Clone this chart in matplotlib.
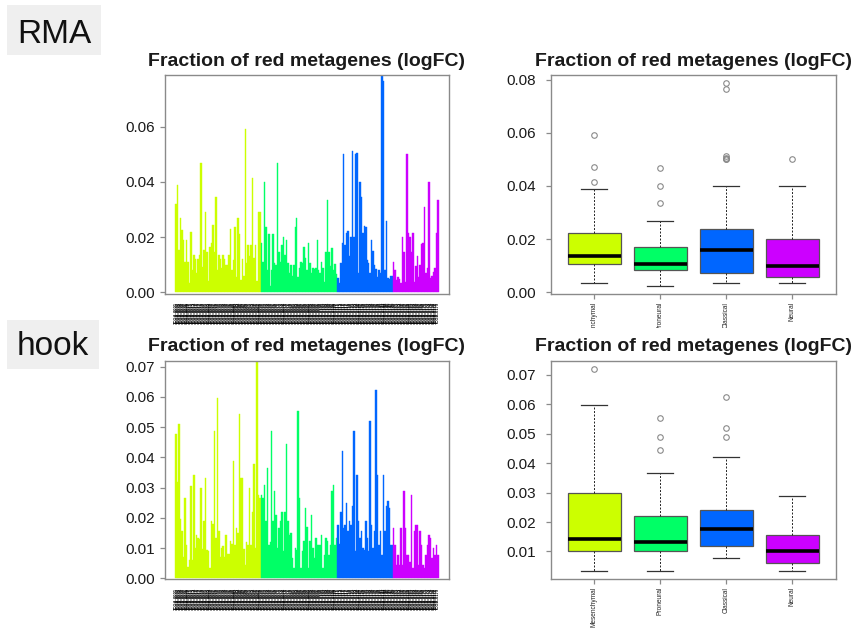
import matplotlib
matplotlib.use("Agg")
import matplotlib.pyplot as plt
import numpy as np
from matplotlib.patches import Rectangle

plt.rcParams['font.family'] = ['Liberation Sans', 'DejaVu Sans']

subtypes = ["Mesenchymal", "Proneural", "Classical", "Neural"]
subtype_colors = ["#CCFF00", "#00FF66", "#0066FF", "#CC00FF"]
title = "Fraction of red metagenes (logFC)"

# fraction of red metagenes per sample, RMA normalisation
mes_rma = [0.032, 0.039, 0.0154, 0.027, 0.0225, 0.019, 0.011, 0.019, 0.011, 0.0035,
           0.022, 0.008, 0.0135, 0.012, 0.007, 0.012, 0.0135, 0.047, 0.0093, 0.0154,
           0.029, 0.0148, 0.004, 0.0166, 0.018, 0.0244, 0.0148, 0.0345, 0.008, 0.0135,
           0.012, 0.009, 0.0135, 0.012, 0.0098, 0.010, 0.0135, 0.023, 0.008, 0.0117,
           0.0235, 0.0057, 0.0269, 0.021, 0.0045, 0.012, 0.006, 0.059, 0.0105, 0.017,
           0.013, 0.017, 0.0414, 0.0125, 0.017, 0.004, 0.029, 0.029]
pro_rma = [0.018, 0.011, 0.040, 0.0235, 0.008, 0.021, 0.0024, 0.008, 0.021, 0.0105,
           0.010, 0.0468, 0.0148, 0.011, 0.017, 0.020, 0.0135, 0.019, 0.0105, 0.0069,
           0.010, 0.006, 0.010, 0.0235, 0.0269, 0.0057, 0.009, 0.011, 0.0105, 0.0165,
           0.0123, 0.008, 0.0178, 0.0105, 0.0069, 0.009, 0.0085, 0.009, 0.019, 0.008,
           0.0069, 0.011, 0.009, 0.0039, 0.0148, 0.0335, 0.0148, 0.0095, 0.016, 0.008,
           0.0103, 0.0065]
cla_rma = [0.0051, 0.0035, 0.0105, 0.0178, 0.050, 0.017, 0.0214, 0.0224, 0.013, 0.020,
           0.0513, 0.020, 0.0502, 0.0505, 0.0069, 0.040, 0.0347, 0.0214, 0.024, 0.0235,
           0.0117, 0.0105, 0.0069, 0.0188, 0.015, 0.010, 0.0085, 0.0057, 0.008, 0.0069,
           0.0787, 0.0764, 0.008, 0.0257, 0.0051, 0.0047, 0.006, 0.006]
neu_rma = [0.011, 0.008, 0.0045, 0.0055, 0.005, 0.0033, 0.020, 0.0148, 0.0039, 0.050,
           0.0215, 0.0202, 0.0148, 0.0214, 0.0039, 0.0095, 0.013, 0.0057, 0.010, 0.0175,
           0.0178, 0.031, 0.007, 0.009, 0.040, 0.0051, 0.006, 0.0075, 0.009, 0.0214,
           0.0335]

# same samples, hook normalisation
mes_hook = [0.0477, 0.032, 0.051, 0.0197, 0.0155, 0.007, 0.0266, 0.011, 0.0037, 0.006,
            0.0305, 0.0059, 0.0343, 0.010, 0.0142, 0.0133, 0.013, 0.030, 0.0098, 0.019,
            0.0332, 0.0092, 0.009, 0.0034, 0.019, 0.018, 0.0488, 0.0133, 0.0598, 0.0155,
            0.007, 0.010, 0.0105, 0.007, 0.0142, 0.0081, 0.008, 0.0122, 0.0112, 0.0388,
            0.011, 0.0166, 0.015, 0.0543, 0.0332, 0.0333, 0.0098, 0.0044, 0.012, 0.011,
            0.030, 0.011, 0.022, 0.0378, 0.010, 0.072, 0.0277, 0.0266]
pro_hook = [0.0277, 0.0266, 0.031, 0.0188, 0.0365, 0.011, 0.012, 0.0488, 0.0188, 0.0288,
            0.021, 0.010, 0.0166, 0.0188, 0.022, 0.0089, 0.022, 0.0443, 0.0188, 0.0144,
            0.015, 0.0066, 0.0033, 0.010, 0.0095, 0.0554, 0.0266, 0.0033, 0.0089, 0.0122,
            0.0233, 0.017, 0.0033, 0.0122, 0.021, 0.010, 0.0066, 0.0133, 0.011, 0.011,
            0.011, 0.0144, 0.0033, 0.0078, 0.0133, 0.0122, 0.0078, 0.011, 0.0288, 0.031,
            0.011, 0.0133]
cla_hook = [0.0177, 0.0112, 0.022, 0.042, 0.0166, 0.0177, 0.025, 0.0155, 0.0188, 0.0177,
            0.024, 0.0487, 0.0089, 0.0343, 0.0188, 0.0133, 0.0155, 0.010, 0.0095, 0.019,
            0.0133, 0.0089, 0.052, 0.0177, 0.010, 0.0155, 0.0623, 0.0343, 0.011, 0.0155,
            0.0078, 0.0343, 0.0155, 0.024, 0.0255, 0.0233, 0.011, 0.011]
neu_hook = [0.0166, 0.011, 0.0044, 0.0078, 0.0044, 0.0166, 0.0044, 0.0288, 0.0166, 0.0078,
            0.0078, 0.0055, 0.0277, 0.0033, 0.0155, 0.0177, 0.0177, 0.0044, 0.0155, 0.011,
            0.0044, 0.0033, 0.0078, 0.011, 0.0144, 0.0133, 0.0066, 0.010, 0.0078, 0.011,
            0.0078]

rma_groups = [mes_rma, pro_rma, cla_rma, neu_rma]
hook_groups = [mes_hook, pro_hook, cla_hook, neu_hook]
n_samples = sum(len(g) for g in rma_groups)
sample_ids = [f"TCGA-{k:04d}" for k in range(1, n_samples + 1)]

rma_bar_ticks = [0.00, 0.02, 0.04, 0.06]
hook_bar_ticks = [0.00, 0.01, 0.02, 0.03, 0.04, 0.05, 0.06, 0.07]
rma_box_ticks = [0.00, 0.02, 0.04, 0.06, 0.08]
hook_box_ticks = [0.01, 0.02, 0.03, 0.04, 0.05, 0.06, 0.07]

frame_col = "#8a8a8a"
text_col = "#1a1a1a"

W, H = 856, 629
fig = plt.figure(figsize=(W / 100, H / 100), dpi=100)


def px_axes(left, top, right, bottom, z):
    return fig.add_axes([left / W, 1 - bottom / H, (right - left) / W, (bottom - top) / H], zorder=z)


def style_frame(ax):
    for s in ax.spines.values():
        s.set_color(frame_col)
        s.set_linewidth(1.0)


def bar_panel(ax, groups, yticks, title_pad):
    vals = np.concatenate([np.asarray(g) for g in groups])
    cols = np.repeat(subtype_colors, [len(g) for g in groups])
    n = len(vals)
    x = 0.7 + 1.2 * np.arange(n)
    # bars are narrower than a pixel pair, so fill the slot and outline in the same colour
    ax.bar(x, vals, width=1.2, color=cols, edgecolor=cols, linewidth=0.3)
    lo, hi = 0.2, 1.2 * n
    ext = 0.04 * (hi - lo)
    ax.set_xlim(lo - ext, hi + ext)
    vmax = vals.max()
    ax.set_ylim(-0.005 * vmax, vmax)
    ax.set_xticks(x)
    ax.set_xticklabels(sample_ids[:n], rotation=90, fontsize=3.0, fontweight="bold",
                       color="black")
    ax.tick_params(axis="x", length=0, pad=6)
    ax.set_yticks(yticks)
    ax.set_yticklabels([f"{t:.2f}" for t in yticks])
    ax.tick_params(axis="y", length=3.6, pad=3.4, width=0.9, color=frame_col,
                   labelsize=11, labelcolor=text_col)
    style_frame(ax)
    ax.set_title(title, fontsize=14, fontweight="bold", pad=title_pad, color=text_col)


def box_panel(ax, groups, yticks, title_pad):
    pos = [1, 2, 3, 4]
    bp = ax.boxplot(groups, positions=pos, widths=0.8, patch_artist=True, whis=1.5,
                    capwidths=0.4,
                    boxprops=dict(edgecolor="#555555", linewidth=0.9),
                    medianprops=dict(color="black", linewidth=2.6),
                    whiskerprops=dict(color="#222222", linewidth=0.7, linestyle=(0, (2, 1.6))),
                    capprops=dict(color="#333333", linewidth=0.9),
                    flierprops=dict(marker="o", markerfacecolor="none", markeredgecolor="#8a8a8a",
                                    markersize=4, markeredgewidth=0.8))
    for patch, c in zip(bp["boxes"], subtype_colors):
        patch.set_facecolor(c)
    allv = np.concatenate([np.asarray(g) for g in groups])
    r = allv.max() - allv.min()
    ax.set_ylim(allv.min() - 0.04 * r, allv.max() + 0.04 * r)
    ax.set_xlim(0.34, 4.66)
    ax.set_xticks(pos)
    ax.set_xticklabels(subtypes, rotation=90, fontsize=4.7, color="#222222")
    ax.tick_params(axis="x", length=3.6, pad=2, width=0.9, color=frame_col)
    ax.set_yticks(yticks)
    ax.set_yticklabels([f"{t:.2f}" for t in yticks])
    ax.tick_params(axis="y", length=3.4, pad=7.2, width=0.9, color=frame_col,
                   labelsize=11, labelcolor=text_col)
    style_frame(ax)
    ax.set_title(title, fontsize=14, fontweight="bold", pad=title_pad, color=text_col)


ax_tl = px_axes(165, 75, 449, 293.5, 0)
ax_tr = px_axes(550.7, 75, 835.7, 294, 0)
ax_bl = px_axes(165, 360.7, 449, 579.3, 2)
ax_br = px_axes(550.7, 360.7, 835.7, 579.3, 2)

bar_panel(ax_tl, rma_groups, rma_bar_ticks, 6.5)
box_panel(ax_tr, rma_groups, rma_box_ticks, 6.5)
bar_panel(ax_bl, hook_groups, hook_bar_ticks, 7)
box_panel(ax_br, hook_groups, hook_box_ticks, 7)

# lower row sits on a white panel that hides the end of the upper labels
fig.add_artist(Rectangle((460 / W, 0), 396 / W, (H - 328) / H, transform=fig.transFigure,
                         facecolor="white", edgecolor="none", zorder=1))

# row labels on grey tabs
for label, (x0, y0, x1, y1), base in [("RMA", (7, 5, 101, 55), 42.7),
                                      ("hook", (7, 320, 99, 369), 355)]:
    fig.add_artist(Rectangle((x0 / W, 1 - y1 / H), (x1 - x0) / W, (y1 - y0) / H,
                             transform=fig.transFigure, facecolor="#efefef",
                             edgecolor="none", zorder=3))
    fig.text((x0 + x1) / 2 / W, 1 - base / H, label, fontsize=24, ha="center",
             va="baseline", color="#111111", zorder=4)

fig.savefig("out.png", dpi=100)
